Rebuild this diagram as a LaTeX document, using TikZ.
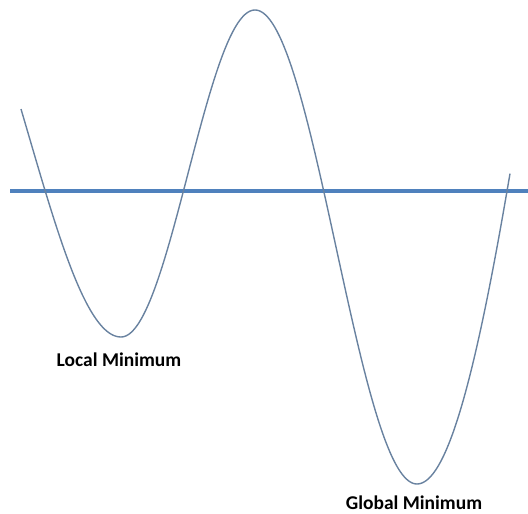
\documentclass[tikz,border=0pt]{standalone}
\usepackage{fontspec}
\setmainfont{Carlito}
\definecolor{axisblue}{RGB}{79,129,189}
\definecolor{curvegray}{RGB}{105,130,160}
\tikzset{
  axisline/.style={draw=axisblue, line width=3.6pt},
  curveline/.style={draw=curvegray, line width=1.4pt, line join=round},
  label/.style={font=\bfseries\fontsize{19.5}{22}\selectfont, anchor=base, inner sep=0pt}
}
\begin{document}
\begin{tikzpicture}[x=1pt,y=-1pt]
\useasboundingbox (0,0) rectangle (528,514);
\coordinate (axL) at (10,191);
\coordinate (axR) at (528,191);
\draw[axisline] (axL) -- (axR);
\draw[curveline]
  plot[domain=21:121,samples=60] (\x,{337-199*(1-cos((121-\x)/183*180))})
  -- plot[domain=121:255,samples=80] (\x,{173.5+163.5*cos((\x-121)/134*180)})
  -- plot[domain=255:417,samples=90] (\x,{247-237*cos((\x-255)/162*180)})
  -- plot[domain=417:510,samples=60] (\x,{484-510*(1-cos((\x-417)/250*180))});
\node[label] (loc) at (119,366) {Local Minimum};
\node[label] (glob) at (414,509) {Global Minimum};
\end{tikzpicture}
\end{document}
